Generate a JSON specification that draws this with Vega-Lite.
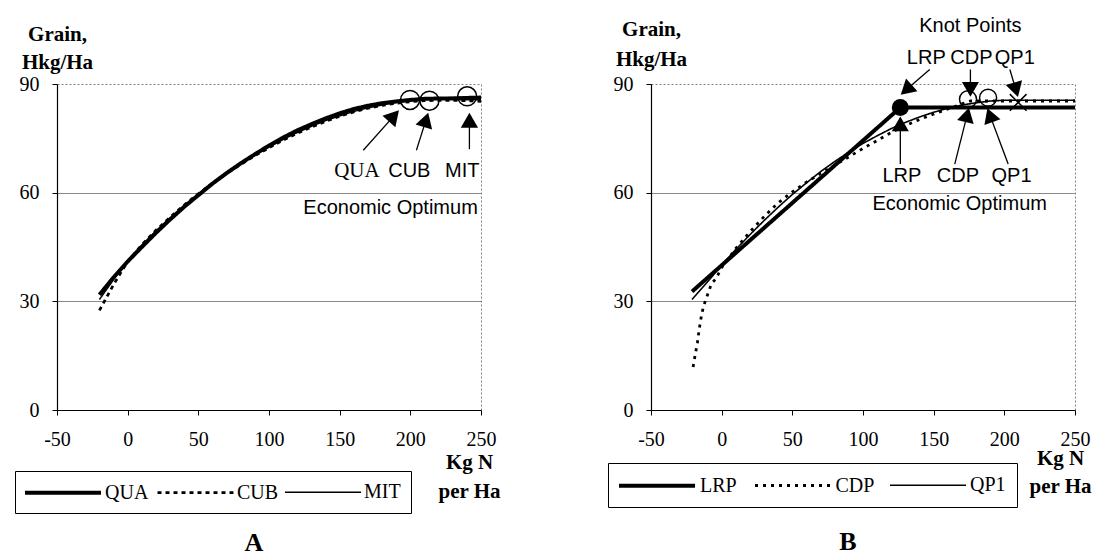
{
  "$schema": "https://vega.github.io/schema/vega-lite/v6.json",
  "background": "white",
  "padding": {"left": 14, "top": 15, "right": 0, "bottom": 0},
  "spacing": 106,
  "config": {
    "view": {"stroke": "#808080", "strokeDash": [2, 2], "strokeWidth": 1},
    "axis": {
      "domainColor": "black", "domainWidth": 1.2, "tickColor": "black", "tickSize": 5,
      "labelFont": "Liberation Serif", "labelFontSize": 20, "labelColor": "black",
      "titleFont": "Liberation Serif", "titleFontSize": 21, "titleFontWeight": "bold", "titleColor": "black",
      "gridColor": "#8a8a8a", "gridWidth": 1, "labelFlush": false, "labelOverlap": false
    },
    "legend": {
      "orient": "none", "direction": "horizontal", "title": null,
      "symbolType": "M-4,0H4", "symbolSize": 361, "symbolOffset": 26.5, "symbolStrokeColor": "black",
      "labelFont": "Liberation Serif", "labelFontSize": 20, "labelColor": "black",
      "strokeColor": "black", "fillColor": "white"
    },
    "title": {"font": "Liberation Serif", "fontSize": 26, "fontWeight": "bold", "color": "black"}
  },
  "datasets": {
    "curvesA": [
      {"s": "QUA", "x": -20, "y": 31.8}, {"s": "QUA", "x": -10, "y": 36.6}, {"s": "QUA", "x": 0, "y": 41.0}, {"s": "QUA", "x": 10, "y": 45.0},
      {"s": "QUA", "x": 20, "y": 48.9}, {"s": "QUA", "x": 30, "y": 52.6}, {"s": "QUA", "x": 40, "y": 56.1}, {"s": "QUA", "x": 50, "y": 59.3},
      {"s": "QUA", "x": 60, "y": 62.5}, {"s": "QUA", "x": 70, "y": 65.4}, {"s": "QUA", "x": 80, "y": 68.1}, {"s": "QUA", "x": 90, "y": 70.6},
      {"s": "QUA", "x": 100, "y": 73.0}, {"s": "QUA", "x": 110, "y": 75.2}, {"s": "QUA", "x": 120, "y": 77.2}, {"s": "QUA", "x": 130, "y": 78.9},
      {"s": "QUA", "x": 140, "y": 80.5}, {"s": "QUA", "x": 150, "y": 81.9}, {"s": "QUA", "x": 160, "y": 83.1}, {"s": "QUA", "x": 170, "y": 84.0},
      {"s": "QUA", "x": 180, "y": 84.7}, {"s": "QUA", "x": 190, "y": 85.2}, {"s": "QUA", "x": 200, "y": 85.6}, {"s": "QUA", "x": 210, "y": 85.9},
      {"s": "QUA", "x": 220, "y": 86.0}, {"s": "QUA", "x": 230, "y": 86.0}, {"s": "QUA", "x": 240, "y": 86.0}, {"s": "QUA", "x": 250, "y": 86.0},
      {"s": "CUB", "x": -20, "y": 27.5}, {"s": "CUB", "x": -10, "y": 34.6}, {"s": "CUB", "x": 0, "y": 41.0}, {"s": "CUB", "x": 10, "y": 45.6},
      {"s": "CUB", "x": 20, "y": 49.6}, {"s": "CUB", "x": 30, "y": 53.2}, {"s": "CUB", "x": 40, "y": 56.6}, {"s": "CUB", "x": 50, "y": 59.7},
      {"s": "CUB", "x": 60, "y": 62.6}, {"s": "CUB", "x": 70, "y": 65.3}, {"s": "CUB", "x": 80, "y": 67.8}, {"s": "CUB", "x": 90, "y": 70.2},
      {"s": "CUB", "x": 100, "y": 72.4}, {"s": "CUB", "x": 110, "y": 74.5}, {"s": "CUB", "x": 120, "y": 76.4}, {"s": "CUB", "x": 130, "y": 78.1},
      {"s": "CUB", "x": 140, "y": 79.7}, {"s": "CUB", "x": 150, "y": 81.1}, {"s": "CUB", "x": 160, "y": 82.3}, {"s": "CUB", "x": 170, "y": 83.3},
      {"s": "CUB", "x": 180, "y": 84.1}, {"s": "CUB", "x": 190, "y": 84.7}, {"s": "CUB", "x": 200, "y": 85.1}, {"s": "CUB", "x": 210, "y": 85.4},
      {"s": "CUB", "x": 220, "y": 85.5}, {"s": "CUB", "x": 230, "y": 85.5}, {"s": "CUB", "x": 240, "y": 85.4}, {"s": "CUB", "x": 250, "y": 85.2},
      {"s": "MIT", "x": -20, "y": 30.5}, {"s": "MIT", "x": -10, "y": 36.0}, {"s": "MIT", "x": 0, "y": 41.2}, {"s": "MIT", "x": 10, "y": 45.5},
      {"s": "MIT", "x": 20, "y": 49.4}, {"s": "MIT", "x": 30, "y": 53.0}, {"s": "MIT", "x": 40, "y": 56.4}, {"s": "MIT", "x": 50, "y": 59.5},
      {"s": "MIT", "x": 60, "y": 62.5}, {"s": "MIT", "x": 70, "y": 65.3}, {"s": "MIT", "x": 80, "y": 67.9}, {"s": "MIT", "x": 90, "y": 70.3},
      {"s": "MIT", "x": 100, "y": 72.6}, {"s": "MIT", "x": 110, "y": 74.7}, {"s": "MIT", "x": 120, "y": 76.6}, {"s": "MIT", "x": 130, "y": 78.3},
      {"s": "MIT", "x": 140, "y": 79.9}, {"s": "MIT", "x": 150, "y": 81.2}, {"s": "MIT", "x": 160, "y": 82.4}, {"s": "MIT", "x": 170, "y": 83.4},
      {"s": "MIT", "x": 180, "y": 84.2}, {"s": "MIT", "x": 190, "y": 84.9}, {"s": "MIT", "x": 200, "y": 85.4}, {"s": "MIT", "x": 210, "y": 85.8},
      {"s": "MIT", "x": 220, "y": 86.1}, {"s": "MIT", "x": 230, "y": 86.3}, {"s": "MIT", "x": 240, "y": 86.5}, {"s": "MIT", "x": 250, "y": 86.6}
    ],
    "optA": [
      {"s": "QUA", "x": 199.8, "y": 85.6}, {"s": "CUB", "x": 213.5, "y": 85.4}, {"s": "MIT", "x": 240.2, "y": 86.6}
    ],
    "arrowsA": [
      {"id": "QUA", "x": 166.7, "y": 71.7, "x2": 188.4, "y2": 81.2},
      {"id": "CUB", "x": 204.3, "y": 71.7, "x2": 211.1, "y2": 80.1},
      {"id": "MIT", "x": 241.8, "y": 72.0, "x2": 241.8, "y2": 80.0}
    ],
    "headsA": [
      {"id": "QUA", "x": 188.4, "y": 81.2}, {"id": "CUB", "x": 211.1, "y": 80.1}, {"id": "MIT", "x": 241.8, "y": 80.0}
    ],
    "labelsA": [
      {"t": "QUA", "x": 162.2, "y": 66.1}, {"t": "CUB", "x": 199.3, "y": 66.1}, {"t": "MIT", "x": 236.7, "y": 66.1},
      {"t": "Economic Optimum", "x": 186, "y": 55.7}
    ],
    "curvesB": [
      {"s": "LRP", "x": -21, "y": 32.7}, {"s": "LRP", "x": 126.4, "y": 83.5}, {"s": "LRP", "x": 250, "y": 83.5},
      {"s": "CDP", "x": -20.2, "y": 11.9}, {"s": "CDP", "x": -18.8, "y": 15.1}, {"s": "CDP", "x": -17.2, "y": 18.5}, {"s": "CDP", "x": -16, "y": 22.0},
      {"s": "CDP", "x": -14.8, "y": 25.0}, {"s": "CDP", "x": -12.9, "y": 28.6}, {"s": "CDP", "x": -10.1, "y": 31.7}, {"s": "CDP", "x": -7.2, "y": 34.9},
      {"s": "CDP", "x": -4.1, "y": 36.2}, {"s": "CDP", "x": 0, "y": 39.3}, {"s": "CDP", "x": 10, "y": 44.6}, {"s": "CDP", "x": 20, "y": 49.2},
      {"s": "CDP", "x": 30, "y": 53.4}, {"s": "CDP", "x": 40, "y": 57.2}, {"s": "CDP", "x": 50, "y": 60.2}, {"s": "CDP", "x": 60, "y": 62.9},
      {"s": "CDP", "x": 70, "y": 65.3}, {"s": "CDP", "x": 80, "y": 67.6}, {"s": "CDP", "x": 90, "y": 69.9}, {"s": "CDP", "x": 100, "y": 72.2},
      {"s": "CDP", "x": 110, "y": 74.4}, {"s": "CDP", "x": 120, "y": 76.6}, {"s": "CDP", "x": 130, "y": 78.5}, {"s": "CDP", "x": 140, "y": 80.2},
      {"s": "CDP", "x": 150, "y": 81.7}, {"s": "CDP", "x": 160, "y": 83.1}, {"s": "CDP", "x": 170, "y": 84.5}, {"s": "CDP", "x": 176, "y": 85.3},
      {"s": "CDP", "x": 250, "y": 85.3},
      {"s": "QP1", "x": -21, "y": 30.5}, {"s": "QP1", "x": -10, "y": 35.4}, {"s": "QP1", "x": 0, "y": 40.0}, {"s": "QP1", "x": 10, "y": 44.3},
      {"s": "QP1", "x": 20, "y": 48.4}, {"s": "QP1", "x": 30, "y": 52.3}, {"s": "QP1", "x": 40, "y": 56.0}, {"s": "QP1", "x": 50, "y": 59.5},
      {"s": "QP1", "x": 60, "y": 62.7}, {"s": "QP1", "x": 70, "y": 65.8}, {"s": "QP1", "x": 80, "y": 68.6}, {"s": "QP1", "x": 90, "y": 71.2},
      {"s": "QP1", "x": 100, "y": 73.6}, {"s": "QP1", "x": 110, "y": 75.7}, {"s": "QP1", "x": 120, "y": 77.7}, {"s": "QP1", "x": 130, "y": 79.4},
      {"s": "QP1", "x": 140, "y": 80.9}, {"s": "QP1", "x": 150, "y": 82.2}, {"s": "QP1", "x": 160, "y": 83.3}, {"s": "QP1", "x": 170, "y": 84.2},
      {"s": "QP1", "x": 180, "y": 84.8}, {"s": "QP1", "x": 190, "y": 85.3}, {"s": "QP1", "x": 200, "y": 85.5}, {"s": "QP1", "x": 210, "y": 85.5},
      {"s": "QP1", "x": 250, "y": 85.5}
    ],
    "optB": [
      {"s": "CDP", "x": 174.3, "y": 85.8}, {"s": "QP1", "x": 188.5, "y": 86.2}
    ],
    "knotLRP": [{"s": "LRP", "x": 126.4, "y": 83.5}],
    "knotQP1": [{"s": "QP1", "x": 209.8, "y": 84.9}],
    "arrowsB": [
      {"id": "tLRP", "x": 147.2, "y": 94.0, "x2": 130.6, "y2": 88.4},
      {"id": "tCDP", "x": 176.0, "y": 94.0, "x2": 176.0, "y2": 88.5},
      {"id": "tQP1", "x": 203.9, "y": 94.0, "x2": 208.2, "y2": 88.4},
      {"id": "bLRP", "x": 126.4, "y": 67.9, "x2": 126.4, "y2": 79.0},
      {"id": "bCDP", "x": 164.9, "y": 67.9, "x2": 173.7, "y2": 81.5},
      {"id": "bQP1", "x": 202.7, "y": 67.9, "x2": 189.8, "y2": 81.4}
    ],
    "headsB": [
      {"id": "tLRP", "x": 130.6, "y": 88.4}, {"id": "tCDP", "x": 176.0, "y": 88.5}, {"id": "tQP1", "x": 208.2, "y": 88.4},
      {"id": "bLRP", "x": 126.4, "y": 79.0}, {"id": "bCDP", "x": 173.7, "y": 81.5}, {"id": "bQP1", "x": 189.8, "y": 81.4}
    ],
    "labelsB": [
      {"t": "Knot Points", "x": 176.0, "y": 106.0},
      {"t": "LRP", "x": 144.8, "y": 97.3}, {"t": "CDP", "x": 176.7, "y": 97.3}, {"t": "QP1", "x": 207.4, "y": 97.3},
      {"t": "LRP", "x": 127.5, "y": 64.7}, {"t": "CDP", "x": 167.2, "y": 64.7}, {"t": "QP1", "x": 205.1, "y": 64.7},
      {"t": "Economic Optimum", "x": 168.4, "y": 56.9}
    ]
  },
  "hconcat": [
    {
      "width": 424,
      "height": 326,
      "title": {"text": "A", "orient": "bottom", "anchor": "middle", "dx": -15, "offset": 16},
      "encoding": {
        "x": {"field": "x", "type": "quantitative", "scale": {"domain": [-50, 250], "nice": false, "zero": false},
          "axis": {"values": [-50, 0, 50, 100, 150, 200, 250], "grid": false, "labelPadding": 14, "labelExpr": "'' + datum.value",
            "title": ["Kg N", "per Ha"], "titleX": 412, "titleY": 58, "titleAlign": "center", "titleBaseline": "alphabetic", "titleLineHeight": 29}},
        "y": {"field": "y", "type": "quantitative", "scale": {"domain": [0, 90], "nice": false, "zero": false},
          "axis": {"values": [0, 30, 60, 90], "grid": true,
            "gridOpacity": {"condition": {"test": "datum.value === 90 || datum.value === 0", "value": 0}, "value": 1},
            "labelPadding": 13, "title": ["Grain,", "Hkg/Ha"], "titleAngle": 0, "titleX": 0, "titleY": -44,
            "titleAlign": "center", "titleBaseline": "alphabetic", "titleLineHeight": 28}}
      },
      "layer": [
        {"data": {"values": [{"x": 0}]}, "mark": {"type": "rule", "color": "black", "strokeDash": [4, 3], "strokeWidth": 1},
          "encoding": {"y": {"datum": 0}, "y2": {"datum": 90}}},
        {"data": {"name": "curvesA"}, "mark": {"type": "line", "color": "black"},
          "encoding": {
            "strokeDash": {"field": "s", "type": "nominal", "scale": {"domain": ["QUA", "CUB", "MIT"], "range": [[1, 0], [4, 4], [1, 0]]},
              "legend": {"legendX": -42, "legendY": 387, "padding": 10, "columnPadding": 3, "labelOffset": 30.5}},
            "strokeWidth": {"field": "s", "type": "nominal", "scale": {"domain": ["QUA", "CUB", "MIT"], "range": [4, 1.5, 1.2]},
              "legend": {"legendX": -42, "legendY": 387, "padding": 10, "columnPadding": 3, "labelOffset": 30.5}}
          }},
        {"data": {"name": "optA"}, "mark": {"type": "point", "shape": "circle", "filled": false, "color": "black", "strokeWidth": 1.5, "size": 361, "opacity": 1}},
        {"data": {"name": "arrowsA"}, "mark": {"type": "rule", "color": "black", "strokeWidth": 1.3},
          "encoding": {"x2": {"field": "x2"}, "y2": {"field": "y2"}}},
        {"data": {"name": "headsA"}, "transform": [{"filter": "datum.id === 'QUA'"}], "mark": {"type": "point", "shape": "triangle-up", "filled": true, "color": "black", "size": 300, "angle": 42, "opacity": 1}},
        {"data": {"name": "headsA"}, "transform": [{"filter": "datum.id === 'CUB'"}], "mark": {"type": "point", "shape": "triangle-up", "filled": true, "color": "black", "size": 300, "angle": 17, "opacity": 1}},
        {"data": {"name": "headsA"}, "transform": [{"filter": "datum.id === 'MIT'"}], "mark": {"type": "point", "shape": "triangle-up", "filled": true, "color": "black", "size": 300, "angle": 0, "opacity": 1}},
        {"data": {"name": "labelsA"}, "transform": [{"filter": "datum.t === 'QUA'"}], "mark": {"type": "text", "font": "Liberation Serif", "fontSize": 21, "color": "black", "align": "center", "baseline": "middle"},
          "encoding": {"text": {"field": "t"}}},
        {"data": {"name": "labelsA"}, "transform": [{"filter": "datum.t !== 'QUA'"}], "mark": {"type": "text", "font": "Liberation Sans", "fontSize": 20, "color": "black", "align": "center", "baseline": "middle"},
          "encoding": {"text": {"field": "t"}}}
      ]
    },
    {
      "width": 424,
      "height": 326,
      "title": {"text": "B", "orient": "bottom", "anchor": "middle", "dx": -15, "offset": 21},
      "encoding": {
        "x": {"field": "x", "type": "quantitative", "scale": {"domain": [-50, 250], "nice": false, "zero": false},
          "axis": {"values": [-50, 0, 50, 100, 150, 200, 250], "grid": false, "labelPadding": 14, "labelExpr": "'' + datum.value",
            "title": ["Kg N", "per Ha"], "titleX": 409, "titleY": 54, "titleAlign": "center", "titleBaseline": "alphabetic", "titleLineHeight": 28}},
        "y": {"field": "y", "type": "quantitative", "scale": {"domain": [0, 90], "nice": false, "zero": false},
          "axis": {"values": [0, 30, 60, 90], "grid": true,
            "gridOpacity": {"condition": {"test": "datum.value === 90 || datum.value === 0", "value": 0}, "value": 1},
            "labelPadding": 13, "title": ["Grain,", "Hkg/Ha"], "titleAngle": 0, "titleX": 0, "titleY": -49,
            "titleAlign": "center", "titleBaseline": "alphabetic", "titleLineHeight": 30}}
      },
      "layer": [
        {"data": {"values": [{"x": 0}]}, "mark": {"type": "rule", "color": "black", "strokeDash": [4, 3], "strokeWidth": 1},
          "encoding": {"y": {"datum": 0}, "y2": {"datum": 90}}},
        {"data": {"name": "curvesB"}, "mark": {"type": "line", "color": "black"},
          "encoding": {
            "strokeDash": {"field": "s", "type": "nominal", "scale": {"domain": ["LRP", "CDP", "QP1"], "range": [[1, 0], [3, 5], [1, 0]]},
              "legend": {"legendX": -43, "legendY": 379, "padding": 11, "columnPadding": 11.5, "labelOffset": 31.5}},
            "strokeWidth": {"field": "s", "type": "nominal", "scale": {"domain": ["LRP", "CDP", "QP1"], "range": [4, 1.6, 1.2]},
              "legend": {"legendX": -43, "legendY": 379, "padding": 11, "columnPadding": 11.5, "labelOffset": 31.5}}
          }},
        {"data": {"name": "optB"}, "mark": {"type": "point", "shape": "circle", "filled": false, "color": "black", "strokeWidth": 1.5, "size": 290, "opacity": 1}},
        {"data": {"name": "knotLRP"}, "mark": {"type": "point", "shape": "circle", "filled": true, "color": "black", "size": 290, "opacity": 1}},
        {"data": {"name": "knotQP1"}, "mark": {"type": "point", "shape": "M-1,-1L1,1M-1,1L1,-1", "filled": false, "color": "black", "strokeWidth": 1.5, "size": 280, "opacity": 1}},
        {"data": {"name": "arrowsB"}, "mark": {"type": "rule", "color": "black", "strokeWidth": 1.3},
          "encoding": {"x2": {"field": "x2"}, "y2": {"field": "y2"}}},
        {"data": {"name": "headsB"}, "transform": [{"filter": "datum.id === 'tLRP'"}], "mark": {"type": "point", "shape": "triangle-up", "filled": true, "color": "black", "size": 290, "angle": 228, "opacity": 1}},
        {"data": {"name": "headsB"}, "transform": [{"filter": "datum.id === 'tCDP'"}], "mark": {"type": "point", "shape": "triangle-up", "filled": true, "color": "black", "size": 290, "angle": 180, "opacity": 1}},
        {"data": {"name": "headsB"}, "transform": [{"filter": "datum.id === 'tQP1'"}], "mark": {"type": "point", "shape": "triangle-up", "filled": true, "color": "black", "size": 290, "angle": 164, "opacity": 1}},
        {"data": {"name": "headsB"}, "transform": [{"filter": "datum.id === 'bLRP'"}], "mark": {"type": "point", "shape": "triangle-up", "filled": true, "color": "black", "size": 290, "angle": 0, "opacity": 1}},
        {"data": {"name": "headsB"}, "transform": [{"filter": "datum.id === 'bCDP'"}], "mark": {"type": "point", "shape": "triangle-up", "filled": true, "color": "black", "size": 290, "angle": 14, "opacity": 1}},
        {"data": {"name": "headsB"}, "transform": [{"filter": "datum.id === 'bQP1'"}], "mark": {"type": "point", "shape": "triangle-up", "filled": true, "color": "black", "size": 290, "angle": -20, "opacity": 1}},
        {"data": {"name": "labelsB"}, "mark": {"type": "text", "font": "Liberation Sans", "fontSize": 20, "color": "black", "align": "center", "baseline": "middle"},
          "encoding": {"text": {"field": "t"}}}
      ]
    }
  ],
  "resolve": {
    "scale": {"x": "independent", "y": "independent", "strokeDash": "independent", "strokeWidth": "independent"},
    "legend": {"strokeDash": "independent", "strokeWidth": "independent"}
  }
}
